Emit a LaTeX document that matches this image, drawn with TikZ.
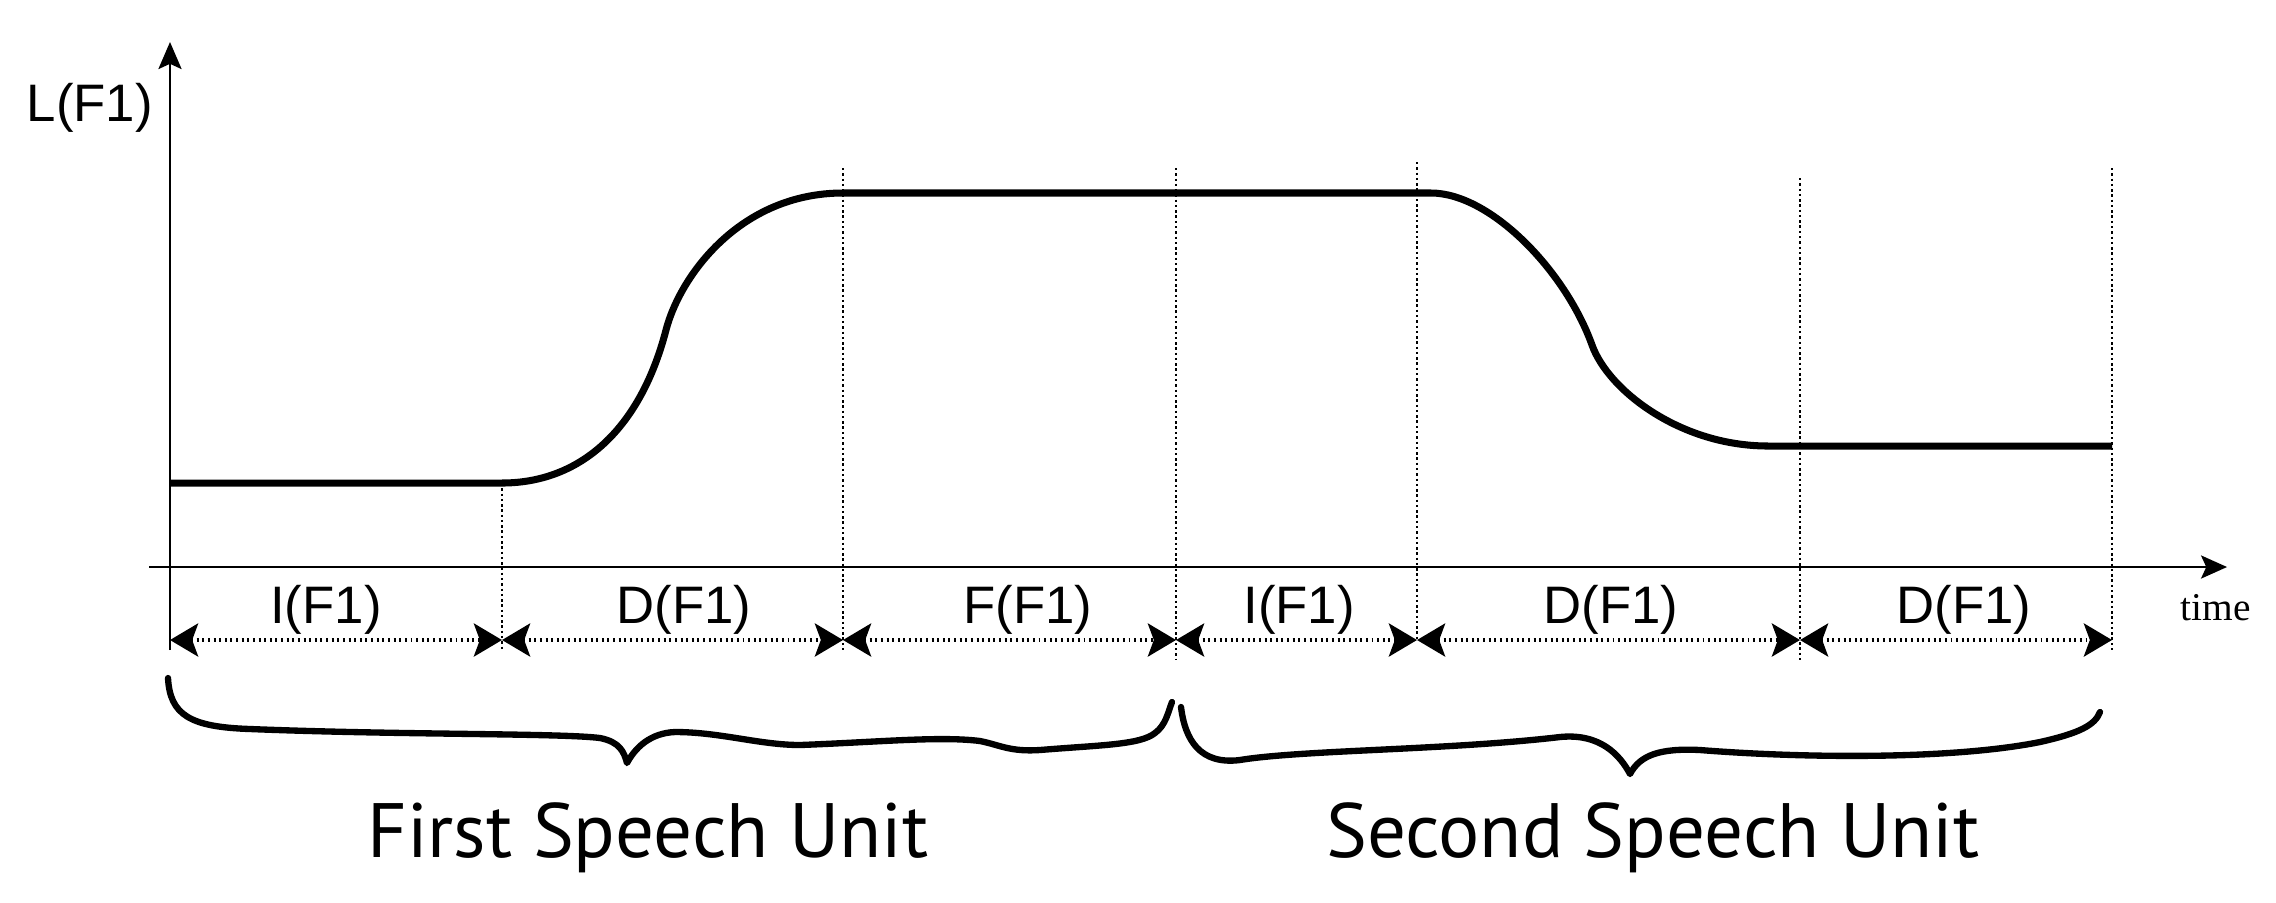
\documentclass[tikz,border=0pt]{standalone}
\usepackage{fontspec}
\setmainfont{Liberation Sans}
\newfontfamily\unitfont{PT Sans}
\newfontfamily\timefont{Liberation Serif}
\usetikzlibrary{arrows.meta}

\begin{document}
\begin{tikzpicture}[x=0.01cm, y=0.01cm]
			\tikzstyle{every node}+=[inner sep=0pt]
			\tikzstyle{axis}=[black, line width=0.5pt]
			\tikzstyle{guide}=[black, line width=0.35pt, dash pattern=on 0.7pt off 0.8pt]
			\tikzstyle{level}=[black, line width=2pt, line join=round]
			\tikzstyle{spanarrow}=[black, line width=1.1pt, dash pattern=on 0.55pt off 1.05pt,
				{Stealth[length=8pt,width=9.4pt,inset=1.7pt]}-{Stealth[length=8pt,width=9.4pt,inset=1.7pt]}]
			\tikzstyle{brace}=[black, line width=1.8pt, line cap=round, line join=round]
			\tikzstyle{seglabel}=[anchor=base, font=\fontsize{15}{17}\selectfont]
			\tikzstyle{unitlabel}=[anchor=base, font=\unitfont\fontsize{21.9}{24}\selectfont]
			\useasboundingbox (0,0) rectangle (2276,-902);
			% axes
			\coordinate (ybot) at (170,-650);
			\coordinate (ytop) at (170,-42);
			\coordinate (xleft) at (149,-567);
			\coordinate (xright) at (2227,-567);
			\draw [axis, -{Stealth[length=7.7pt,width=6.6pt,inset=1.5pt]}] (ybot) -- (ytop);
			\draw [axis, -{Stealth[length=7.4pt,width=6.6pt,inset=1.5pt]}] (xleft) -- (xright);
			\draw (26,-121) node [anchor=base west, font=\fontsize{15}{17}\selectfont] (ylab) {L(F1)};
			\draw (2180,-620) node [anchor=base west, font=\timefont\fontsize{11.2}{13}\selectfont] (xlab) {time};
			% guides
			\foreach \x/\top/\bot in {502/483/650, 843/168/650, 1176/168/660, 1417/162/640, 1800/178/660, 2112/168/650}
				\draw [guide] (\x,-\top) -- (\x,-\bot);
			% L(F1) track
			\draw [level] (170,-483) -- (502,-483)
				.. controls (580,-483) and (640,-430) .. (666,-330)
				.. controls (680,-276) and (740,-193) .. (843,-193) -- (1431,-193)
				.. controls (1490,-193) and (1565,-270) .. (1592,-345)
				.. controls (1608,-390) and (1680,-446) .. (1768,-446) -- (2112,-446);
			% segments
			\coordinate (b0) at (170,-640);
			\coordinate (b1) at (502,-640);
			\coordinate (b2) at (843,-640);
			\coordinate (b3) at (1176,-640);
			\coordinate (b4) at (1417,-640);
			\coordinate (b5) at (1800,-640);
			\coordinate (b6) at (2112,-640);
			\draw [spanarrow] (b0) -- (b1);
			\draw [spanarrow] (b1) -- (b2);
			\draw [spanarrow] (b2) -- (b3);
			\draw [spanarrow] (b3) -- (b4);
			\draw [spanarrow] (b4) -- (b5);
			\draw [spanarrow] (b5) -- (b6);
			\draw (326,-623) node [seglabel] (seg1) {I(F1)};
			\draw (684,-623) node [seglabel] (seg2) {D(F1)};
			\draw (1028,-623) node [seglabel] (seg3) {F(F1)};
			\draw (1299,-623) node [seglabel] (seg4) {I(F1)};
			\draw (1611,-623) node [seglabel] (seg5) {D(F1)};
			\draw (1964,-623) node [seglabel] (seg6) {D(F1)};
			% braces
			\draw [brace] (168,-678) .. controls (170,-715) and (190,-727) .. (250,-729)
				.. controls (400,-735) and (560,-733) .. (600,-738)
				.. controls (620,-742) and (624,-752) .. (627,-763)
				.. controls (635,-748) and (650,-733) .. (675,-732)
				.. controls (720,-732) and (760,-745) .. (800,-745)
				.. controls (880,-742) and (940,-736) .. (980,-741)
				.. controls (1000,-745) and (1010,-752) .. (1040,-750)
				.. controls (1100,-745) and (1140,-745) .. (1155,-733)
				.. controls (1166,-725) and (1168,-712) .. (1172,-702);
			\draw [brace] (1181,-707) .. controls (1185,-740) and (1200,-765) .. (1240,-760)
				.. controls (1300,-750) and (1450,-750) .. (1560,-737)
				.. controls (1600,-733) and (1620,-755) .. (1630,-774)
				.. controls (1640,-755) and (1660,-748) .. (1700,-750)
				.. controls (1800,-758) and (1950,-760) .. (2040,-742)
				.. controls (2080,-733) and (2095,-725) .. (2100,-712);
			\draw (648,-857) node [unitlabel] (unit1) {First Speech Unit};
			\draw (1653,-857) node [unitlabel] (unit2) {Second Speech Unit};
		\end{tikzpicture}
\end{document}
